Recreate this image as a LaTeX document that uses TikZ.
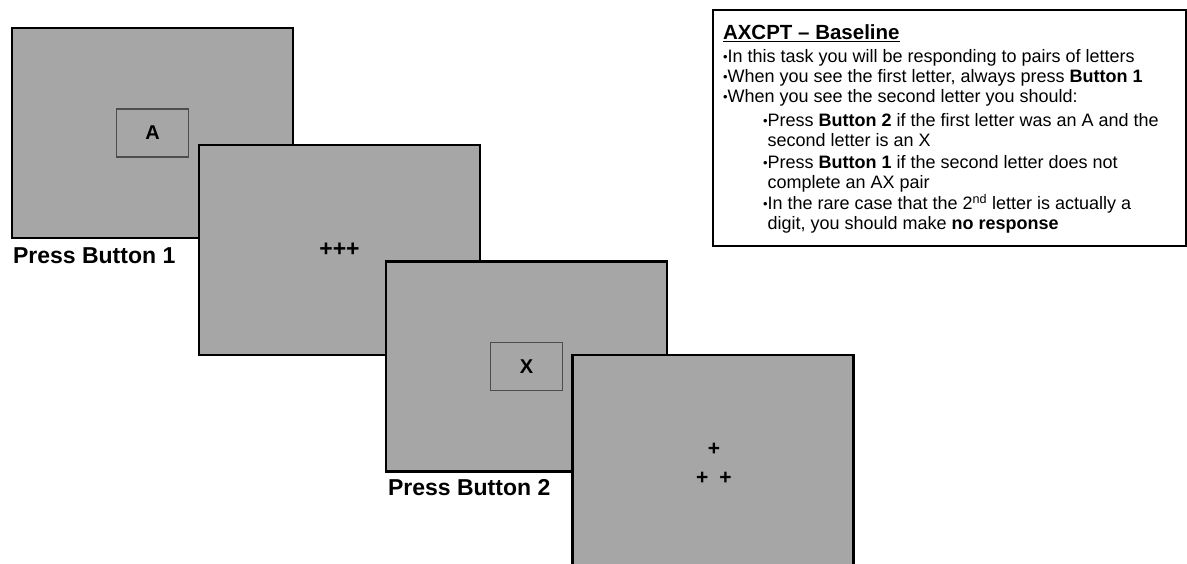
\documentclass[tikz,border=0pt]{standalone}
\usepackage{fontspec}
\setmainfont{Liberation Sans}
\usepackage{tikz}
\usetikzlibrary{positioning}
\definecolor{AxScreen}{HTML}{A6A6A6}
\definecolor{AxFrame}{HTML}{4D4D4D}
\newcommand{\axbul}{{\fontsize{13}{13}\selectfont\raisebox{1pt}{•}}}
\begin{document}
\begin{tikzpicture}[x=1pt,y=-1pt,
    every node/.style={inner sep=0pt,outer sep=0pt},
    screen/.style={draw,line width=2.8pt,fill=AxScreen,minimum width=281pt,minimum height=210pt},
    letterbox/.style={draw=AxFrame,line width=1.3pt,fill=AxScreen,minimum width=72pt,minimum height=48pt,font=\fontsize{20}{20}\selectfont\bfseries},
    presslabel/.style={anchor=base west,font=\fontsize{23}{23}\selectfont\bfseries}]
    \useasboundingbox[fill=white] (0,0) rectangle (1187,563);
    % trial sequence
    \node[screen] (cue) at (152.5,133) {};
    \node[letterbox] (cueletter) at (cue.center) {A};
    \node[presslabel] (pressone) at (13,263) {Press Button 1};
    \node[screen] (fixation) at (339.5,250) {};
    \node[font=\fontsize{23}{23}\selectfont\bfseries] (crosses) at (fixation.center) {+++};
    \node[screen] (probe) at (526.5,366.5) {};
    \node[letterbox] (probeletter) at (probe.center) {X};
    \node[presslabel] (presstwo) at (388,495) {Press Button 2};
    \node[screen] (iti) at (713,460) {};
    \node[align=center,font=\fontsize{21}{29}\selectfont\bfseries] (triangle) at (714,464) {+\\+\hspace{11pt}+};
    % instructions
    \node[draw,line width=2pt,fill=white,minimum width=473pt,minimum height=236pt] (instrbox) at (949.5,128) {};
    \node[anchor=north west,align=left,font=\fontsize{18}{20}\selectfont] (instr) at (723,25) {%
      {\fontsize{20.5}{20}\selectfont\bfseries\underline{AXCPT – Baseline}}\\[3pt]
      \axbul In this task you will be responding to pairs of letters\\
      \axbul When you see the first letter, always press \textbf{Button 1}\\
      \axbul When you see the second letter you should:\\[4pt]
      \hspace*{40pt}\axbul Press \textbf{Button 2} if the first letter was an A and the\\
      \hspace*{40pt}\phantom{\axbul}second letter is an X\\[2pt]
      \hspace*{40pt}\axbul Press \textbf{Button 1} if the second letter does not\\
      \hspace*{40pt}\phantom{\axbul}complete an AX pair\\[1pt]
      \hspace*{40pt}\axbul In the rare case that the 2\textsuperscript{nd} letter is actually a\\
      \hspace*{40pt}\phantom{\axbul}digit, you should make \textbf{no response}};
\end{tikzpicture}
\end{document}
